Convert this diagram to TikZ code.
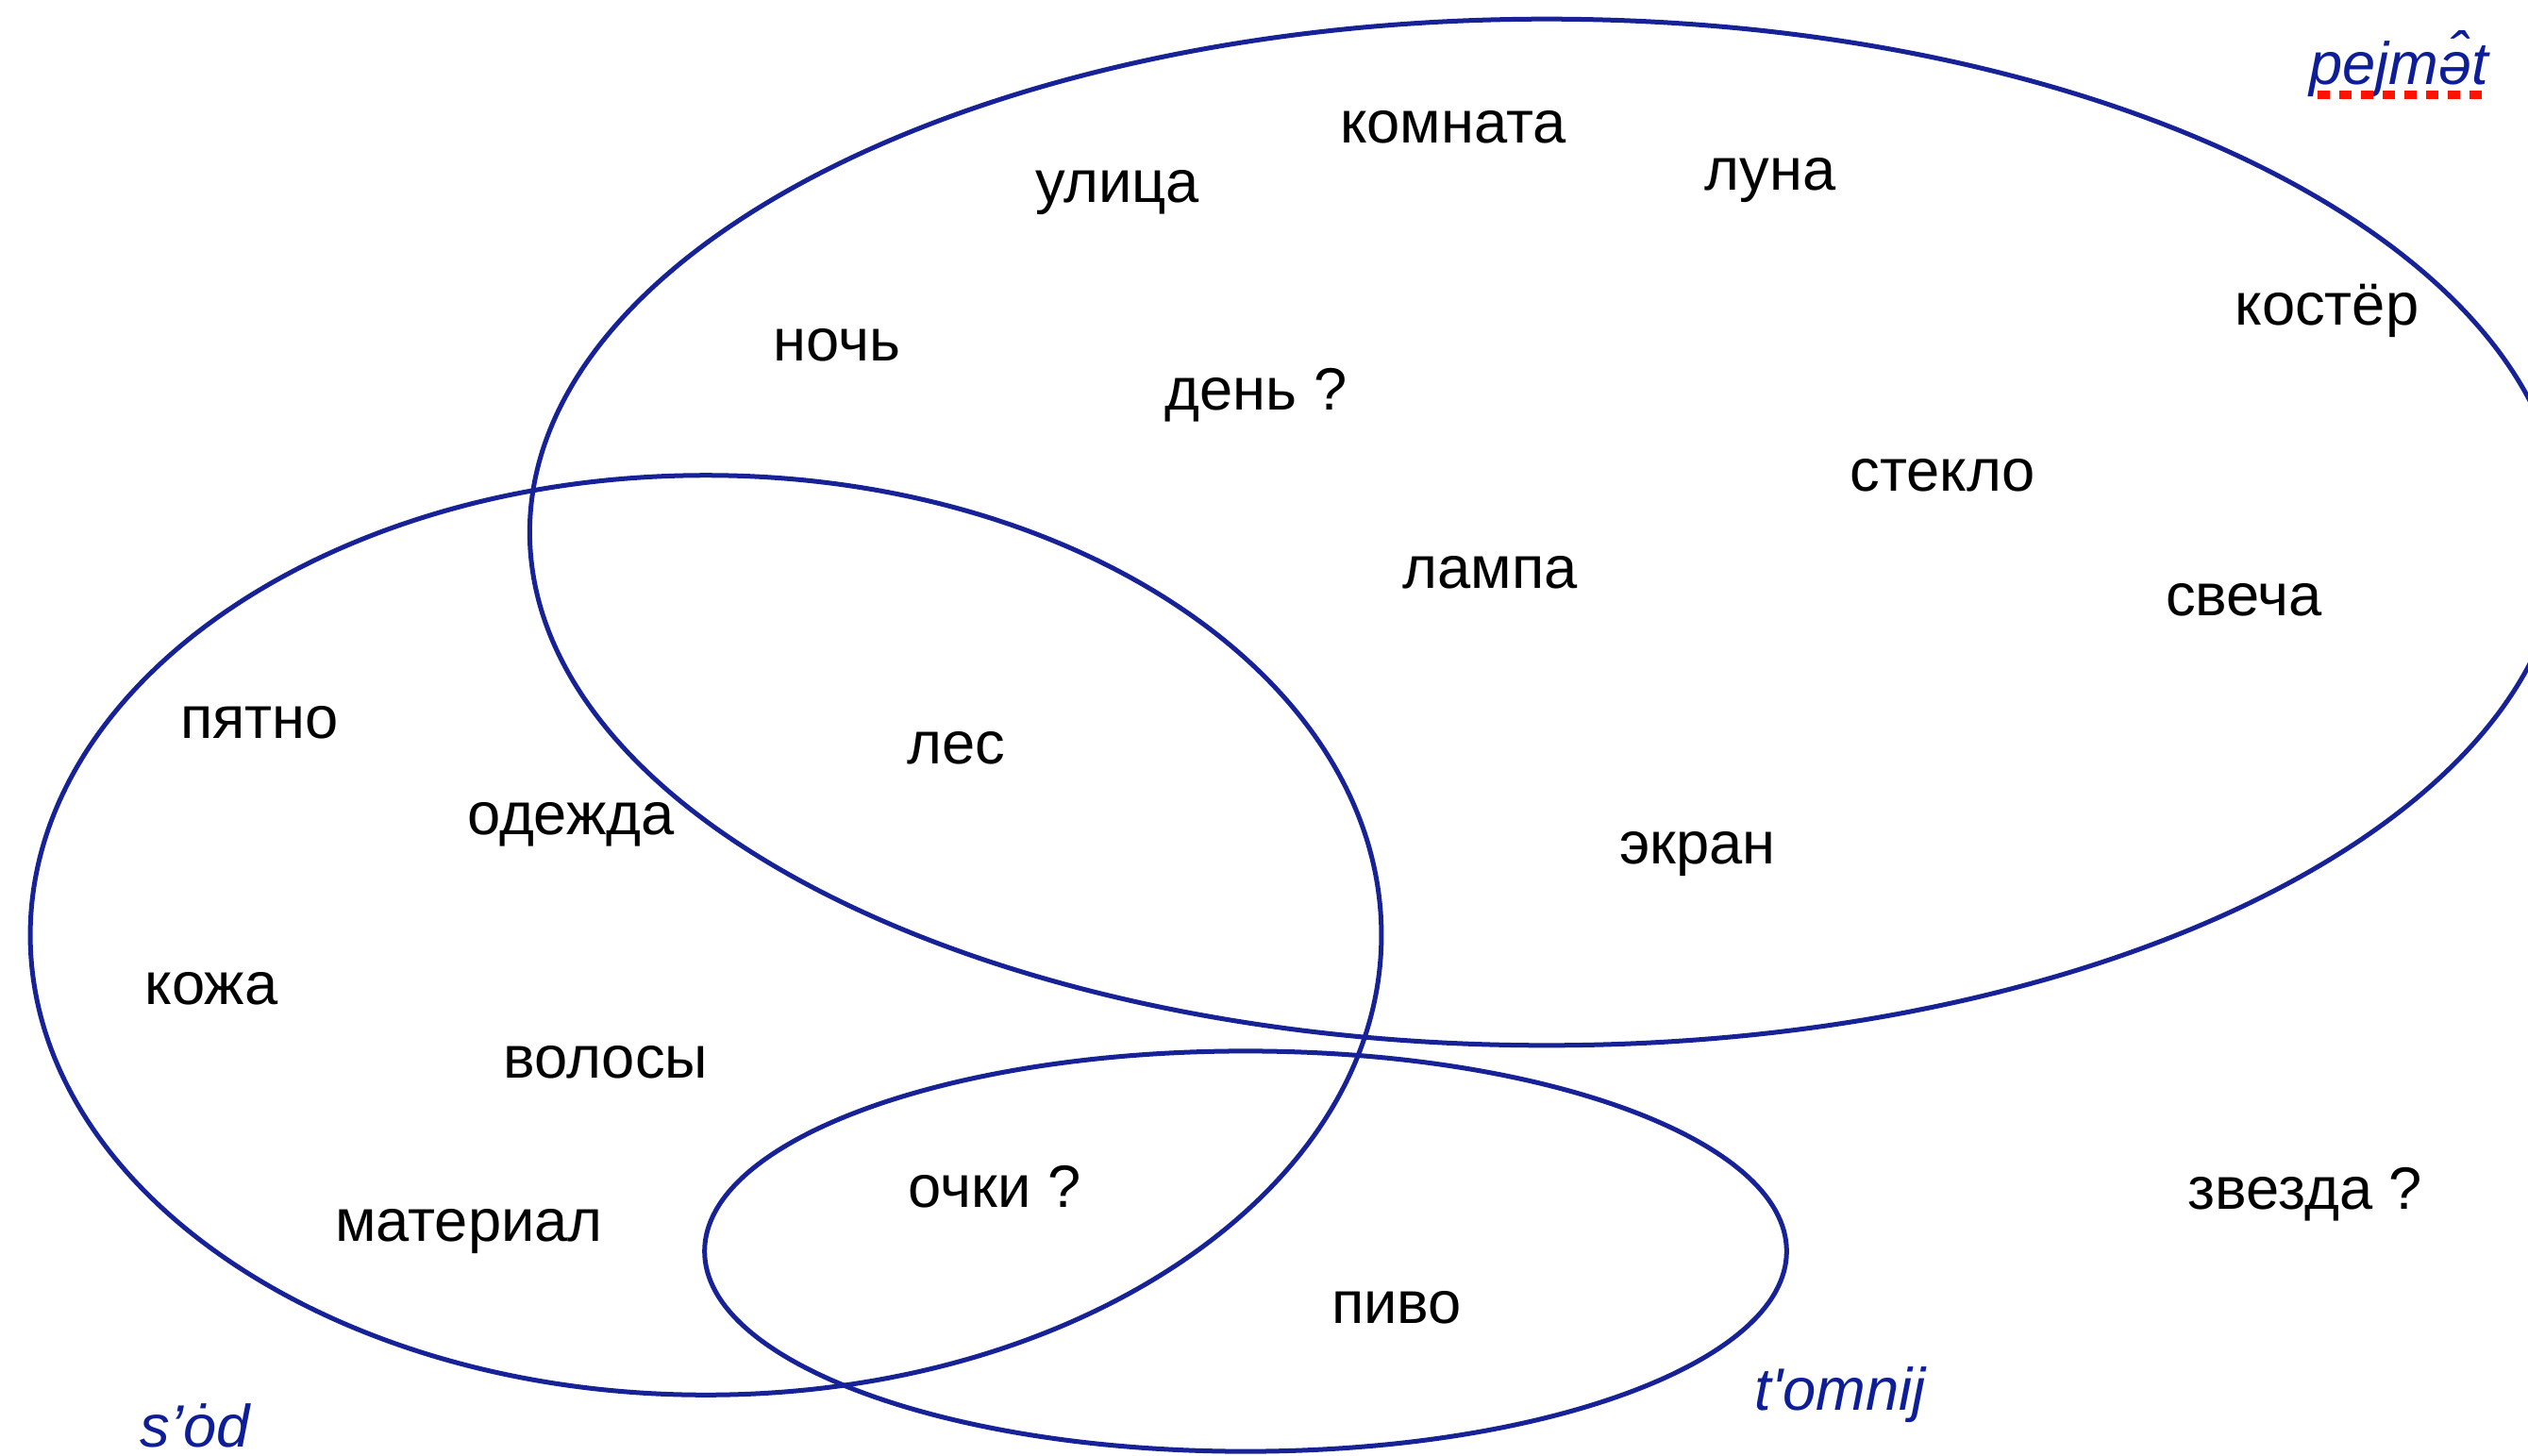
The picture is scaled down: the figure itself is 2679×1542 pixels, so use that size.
\documentclass[tikz,border=0pt]{standalone}
\usepackage{fontspec}
\setmainfont{Liberation Sans}
\newfontfamily\plainsans{Liberation Sans}
\begin{document}
\begin{tikzpicture}[x=0.01cm,y=-0.01cm,
  ring/.style={draw=ringblue,line width=0.05cm},
  word/.style={anchor=base,font=\fontsize{18}{20}\selectfont,text=black,inner sep=0pt},
  setname/.style={anchor=base,font=\fontsize{18}{20}\selectfont\itshape,text=labelblue,inner sep=0pt}]
\definecolor{ringblue}{RGB}{22,34,150}
\definecolor{labelblue}{RGB}{14,30,150}
\useasboundingbox (0,0) rectangle (2679,1542);
\fill[white] (0,0) rectangle (2679,1542);
% sets
\draw[ring] (1639,564) ellipse [x radius=10.77cm, y radius=5.435cm];
\draw[ring] (748,991) ellipse [x radius=7.155cm, y radius=4.87cm];
\draw[ring] (1320,1326) ellipse [x radius=5.73cm, y radius=2.12cm];
% words
\node[word] (komnata) at (1540,151) {комната};
\node[word] (ulica) at (1184,214) {улица};
\node[word] (luna) at (1876,201) {луна};
\node[word] (koster) at (2466,344) {костёр};
\node[word] (noch) at (887,382) {ночь};
\node[word] (den) at (1331,434) {день ?};
\node[word] (steklo) at (2059,520) {стекло};
\node[word] (lampa) at (1579,623) {лампа};
\node[word] (svecha) at (2378,652) {свеча};
\node[word] (pyatno) at (275,782) {пятно};
\node[word] (les) at (1013,809) {лес};
\node[word] (odezhda) at (605,884) {одежда};
\node[word] (ekran) at (1799,915) {экран};
\node[word] (kozha) at (224,1064) {кожа};
\node[word] (volosy) at (642,1142) {волосы};
\node[word] (material) at (497,1315) {материал};
\node[word] (ochki) at (1054,1279) {очки ?};
\node[word] (zvezda) at (2443,1281) {звезда ?};
\node[word] (pivo) at (1480,1402) {пиво};
% set names
\node[setname] (pejmat) at (2542,89) {pejmə̂t};
\draw[red!85!orange,line width=0.09cm,dash pattern=on 0.13cm off 0.10cm] (2456,100) -- (2630,100);
\node[setname] (sod) at (207,1533) {s’ȯd};
\node[setname,font=\fontsize{18}{20}\selectfont\plainsans\itshape] (tomnij) at (1950,1494) {t'omnij};
\end{tikzpicture}
\end{document}
